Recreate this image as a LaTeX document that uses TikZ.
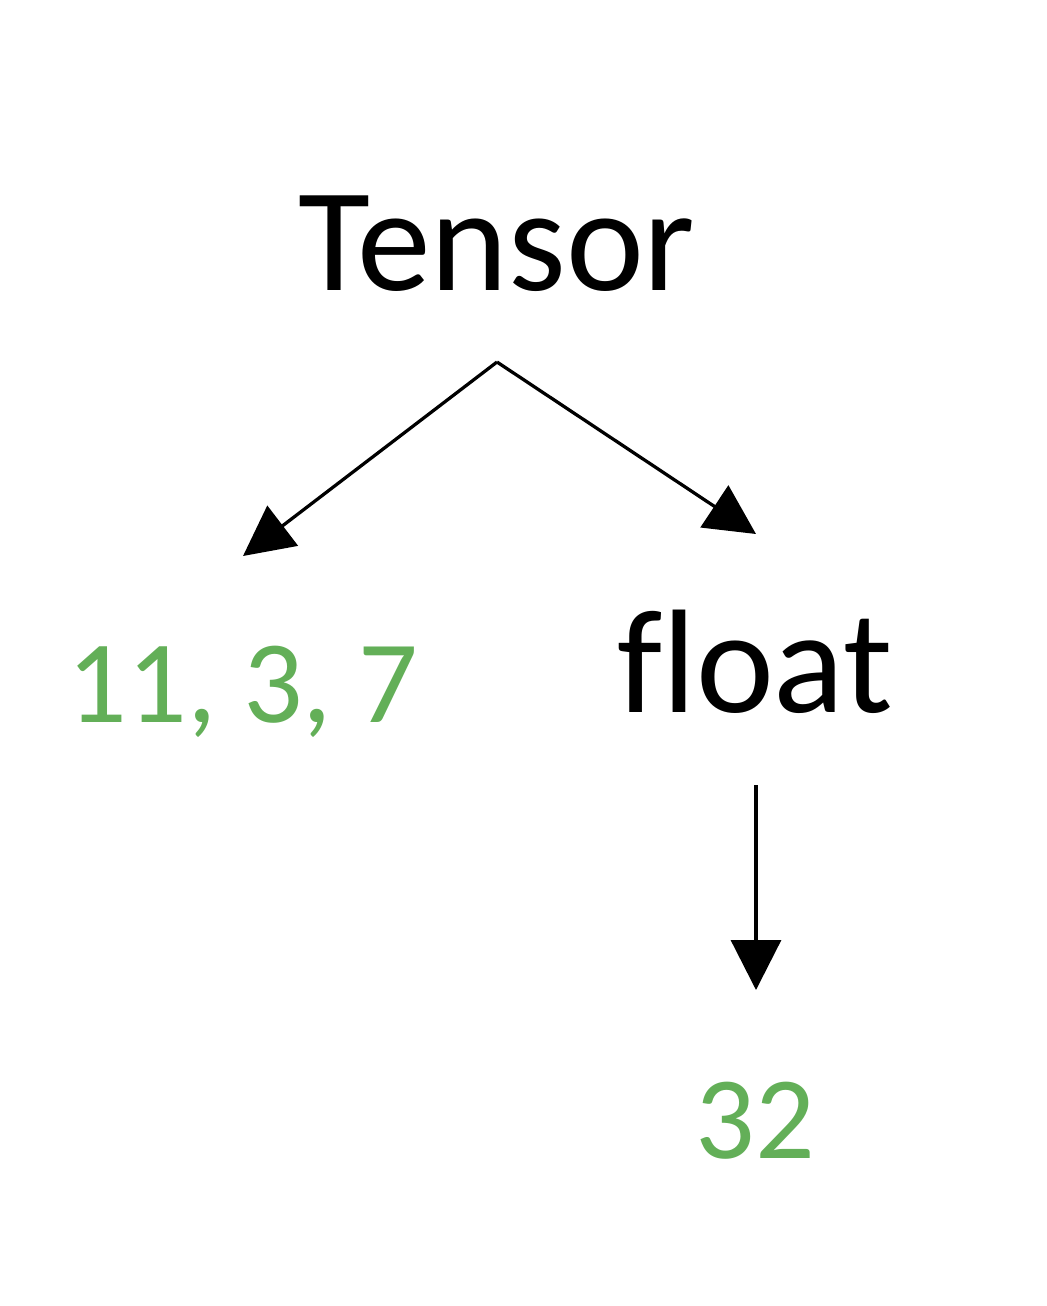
\documentclass[tikz,border=0pt]{standalone}
\usepackage{fontspec}
\setmainfont{Carlito}[Ligatures=NoCommon]
\usetikzlibrary{arrows.meta,positioning,calc}
\definecolor{numgreen}{RGB}{99,175,88}

\begin{document}
\begin{tikzpicture}[x=0.02cm,y=-0.02cm,>={Triangle[length=1cm,width=1cm]},
  word/.style={anchor=base,inner sep=0pt,font=\fontsize{84}{100}\selectfont},
  num/.style={anchor=base,inner sep=0pt,text=numgreen,font=\fontsize{67}{80}\selectfont}]
\useasboundingbox (0,0) rectangle (1047,1306);
\node[word] (tensor) at (497,290) {Tensor};
\node[word] (float) at (755,712) {float};
\node[num] (dims) at (243,722) {11, 3, 7};
\node[num] (bits) at (755,1158) {32};
\coordinate (split) at (497,362);
\coordinate (dimtip) at (243,556);
\coordinate (floattip) at (756,534);
\coordinate (floatfoot) at (756,785);
\coordinate (bitstip) at (756,990);
\draw[->,line width=0.065cm] (split) -- (dimtip);
\draw[->,line width=0.065cm] (split) -- (floattip);
\draw[->,line width=0.065cm] (floatfoot) -- (bitstip);
\end{tikzpicture}
\end{document}
